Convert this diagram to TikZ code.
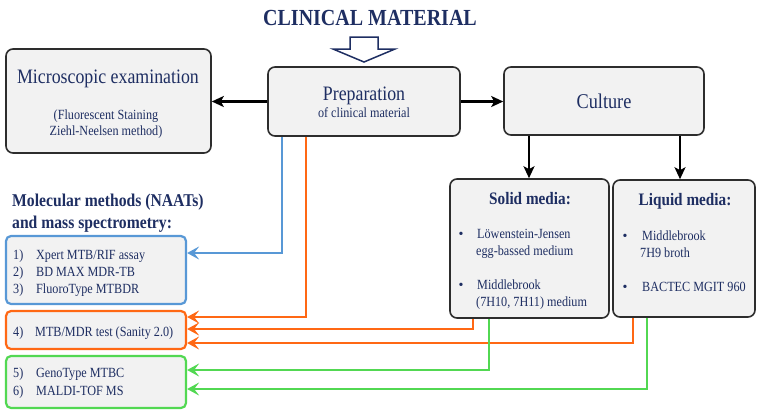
\documentclass[tikz,border=0pt]{standalone}
\usepackage{fontspec}
\usepackage{graphicx}
\setmainfont{Liberation Serif}
\usetikzlibrary{arrows.meta}
\newcommand{\sq}[1]{\scalebox{0.87}[1]{#1}}
\definecolor{navy}{RGB}{30,46,98}
\definecolor{boxfill}{RGB}{242,242,242}
\definecolor{boxline}{RGB}{45,45,45}
\definecolor{cblue}{RGB}{88,152,214}
\definecolor{corange}{RGB}{255,104,20}
\definecolor{cgreen}{RGB}{82,216,82}
\tikzset{
  gbox/.style={draw=boxline, line width=1.6pt, fill=boxfill, rounded corners=7pt, inner sep=0pt, anchor=center},
  cbox/.style={line width=2.2pt, fill=boxfill, rounded corners=5pt, inner sep=0pt, anchor=center},
  txt/.style={text=navy, inner sep=0pt, anchor=base},
  txtl/.style={text=navy, inner sep=0pt, anchor=base west},
  blk/.style={draw=black, line width=2.2pt, -{Stealth[length=12pt,width=11pt,inset=3pt]}},
  col/.style={line width=2.6pt, -{Stealth[length=12pt,width=13pt,inset=5pt]}},
}
\begin{document}
\begin{tikzpicture}[x=1pt,y=-1pt]
\useasboundingbox (0,0) rectangle (762,416);
% title
\node[txt, font=\fontsize{23}{23}\selectfont\bfseries] (title) at (370,25) {\sq{CLINICAL MATERIAL}};
\draw[navy, line width=1.5pt, fill=white, line join=miter]
  (350,37) -- (378,37) -- (378,49) -- (395,49) -- (364,62) -- (333,49) -- (350,49) -- cycle;
% main boxes
\node[gbox, minimum width=205pt, minimum height=104pt] (micro) at (108.5,101) {};
\node[gbox, minimum width=192pt, minimum height=69pt] (prep) at (364,101.5) {};
\node[gbox, minimum width=200pt, minimum height=68pt] (cult) at (604,101) {};
\node[gbox, minimum width=159pt, minimum height=139pt] (solid) at (529.5,248.5) {};
\node[gbox, minimum width=142pt, minimum height=137pt] (liquid) at (684,248.5) {};
\node[cbox, draw=cblue, minimum width=180pt, minimum height=68pt] (blue) at (96,270) {};
\node[cbox, draw=corange, minimum width=180pt, minimum height=38pt] (orange) at (96,330) {};
\node[cbox, draw=cgreen, minimum width=180pt, minimum height=52pt] (green) at (96,382) {};
% texts
\node[txt, font=\fontsize{20.5}{20.5}\selectfont] (mt) at (108,83) {\sq{Microscopic examination}};
\node[txt, font=\fontsize{14}{14}\selectfont] (m1) at (106,119) {\sq{(Fluorescent Staining}};
\node[txt, font=\fontsize{14}{14}\selectfont] (m2) at (106,135) {\sq{Ziehl-Neelsen method)}};
\node[txt, font=\fontsize{20.5}{20.5}\selectfont] (pt) at (364,100) {\sq{Preparation}};
\node[txt, font=\fontsize{14}{14}\selectfont] (p1) at (364,117) {\sq{of clinical material}};
\node[txt, font=\fontsize{21}{21}\selectfont] (ct) at (604,108) {\sq{Culture}};
\node[txt, font=\fontsize{17.5}{17.5}\selectfont\bfseries] (st) at (530,204) {\sq{Solid media:}};
\node[txt, font=\fontsize{17.5}{17.5}\selectfont\bfseries] (lt) at (685,205) {\sq{Liquid media:}};
\begin{scope}[every node/.append style={font=\fontsize{14}{14}\selectfont}]
\node[txt] (sb1) at (461,238) {•};
\node[txtl] (s1) at (477,238) {\sq{Löwenstein-Jensen}};
\node[txtl] (s2) at (476,255) {\sq{egg-bassed medium}};
\node[txt] (sb2) at (461,289) {•};
\node[txtl] (s3) at (477,289) {\sq{Middlebrook}};
\node[txtl] (s4) at (476,306) {\sq{(7H10, 7H11) medium}};
\node[txt] (lb1) at (625,240) {•};
\node[txtl] (l1) at (642,240) {\sq{Middlebrook}};
\node[txtl] (l2) at (640,257) {\sq{7H9 broth}};
\node[txt] (lb2) at (625,291) {•};
\node[txtl] (l3) at (642,291) {\sq{BACTEC MGIT 960}};
\node[txtl] (n1) at (13,259) {\sq{1)}};
\node[txtl] (t1) at (36,259) {\sq{Xpert MTB/RIF assay}};
\node[txtl] (n2) at (13,276) {\sq{2)}};
\node[txtl] (t2) at (36,276) {\sq{BD MAX MDR-TB}};
\node[txtl] (n3) at (13,293) {\sq{3)}};
\node[txtl] (t3) at (36,293) {\sq{FluoroType MTBDR}};
\node[txtl] (n4) at (13,336) {\sq{4)}};
\node[txtl] (t4) at (35,336) {\sq{MTB/MDR test (Sanity 2.0)}};
\node[txtl] (n5) at (13,377) {\sq{5)}};
\node[txtl] (t5) at (36,377) {\sq{GenoType MTBC}};
\node[txtl] (n6) at (13,395) {\sq{6)}};
\node[txtl] (t6) at (36,395) {\sq{MALDI-TOF MS}};
\end{scope}
\node[txtl, font=\fontsize{18}{18}\selectfont\bfseries] (h1) at (12,206) {\sq{Molecular methods (NAATs)}};
\node[txtl, font=\fontsize{18}{18}\selectfont\bfseries] (h2) at (12,228) {\sq{and mass spectrometry:}};
% black arrows
\draw[blk] (prep.west) -- (micro.east |- prep.west);
\draw[blk] (prep.east) -- (cult.west |- prep.east);
\draw[blk] (cult.south -| 529,0) -- (solid.north -| 529,0);
\draw[blk] (cult.south -| 680,0) -- (liquid.north -| 680,0);
% coloured connectors
\draw[col, cblue] (prep.south -| 282,0) |- (blue.east |- 0,253);
\draw[col, corange] (prep.south -| 306,0) |- (orange.east |- 0,317);
\draw[col, corange] (solid.south -| 473,0) |- (orange.east |- 0,329);
\draw[col, corange] (liquid.south -| 633,0) |- (orange.east |- 0,343);
\draw[col, cgreen] (solid.south -| 489,0) |- (green.east |- 0,370);
\draw[col, cgreen] (liquid.south -| 647,0) |- (green.east |- 0,389);
\end{tikzpicture}
\end{document}
